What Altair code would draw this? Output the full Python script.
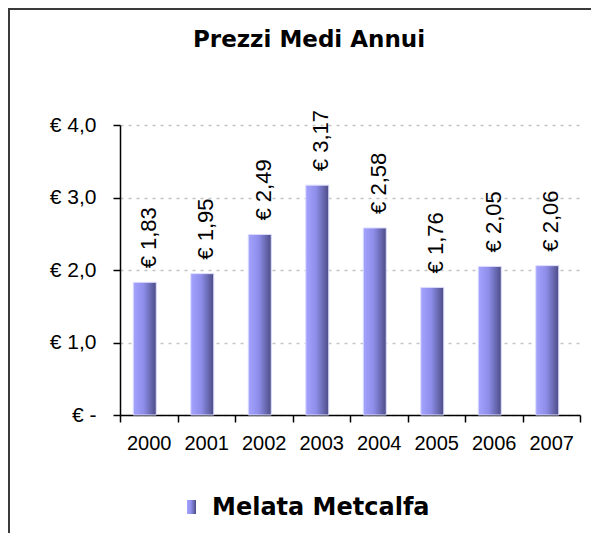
import altair as alt
import pandas as pd

years = ["2000", "2001", "2002", "2003", "2004", "2005", "2006", "2007"]
prices = [1.83, 1.95, 2.49, 3.17, 2.58, 1.76, 2.05, 2.06]
series_name = "Melata Metcalfa"
title_text = "Prezzi Medi Annui"
y_ticks = [0, 0.5, 1.0, 1.5, 2.0, 2.5, 3.0, 3.5, 4.0]

df = pd.DataFrame({"anno": years, "prezzo": prices})

W, H = 460, 290
LABEL_FONT = "Liberation Sans"
BOLD_FONT = "DejaVu Sans"

grad = alt.LinearGradient(
    gradient="linear",
    stops=[
        alt.GradientStop(offset=0, color="#a4a4ff"),
        alt.GradientStop(offset=0.45, color="#8e8eea"),
        alt.GradientStop(offset=1, color="#4c4c86"),
    ],
    x1=0, x2=1, y1=0, y2=0,
)

x_enc = alt.X(
    "anno:N",
    sort=years,
    scale=alt.Scale(paddingInner=0, paddingOuter=0),
    axis=alt.Axis(
        title=None,
        labelAngle=0,
        labelFont=LABEL_FONT,
        labelFontSize=20,
        labelColor="#000000",
        labelPadding=11,
        domainColor="#000000",
        domainWidth=1.5,
        tickColor="#000000",
        tickWidth=1.5,
        tickSize=7,
        tickBand="extent",
        grid=False,
    ),
)

y_scale = alt.Scale(domain=[0, 4], nice=False)

bars = alt.Chart(df).mark_bar(
    fill=grad, stroke="#dcdcff", strokeWidth=1, width=23, xOffset=-4
).encode(
    x=x_enc,
    y=alt.Y(
        "prezzo:Q",
        scale=y_scale,
        axis=alt.Axis(
            title=None,
            values=y_ticks,
            labelExpr="datum.value == 0 ? '€ -' : (datum.value % 1 == 0 ? '€ ' + replace(format(datum.value, '.1f'), '.', ',') : '')",
            labelFont=LABEL_FONT,
            labelFontSize=21,
            labelColor="#000000",
            labelPadding=17,
            domainColor="#000000",
            domainWidth=1.5,
            tickColor="#000000",
            tickWidth=1.5,
            tickSize=7,
            grid=True,
            gridColor="#c4c4c4",
            gridDash=[3, 5],
            gridWidth=1.5,
        ),
    ),
)

labels = alt.Chart(df).transform_calculate(
    lab="'€ ' + replace(format(datum.prezzo, '.2f'), '.', ',')"
).mark_text(
    angle=270, align="left", baseline="middle", dx=14,
    font=LABEL_FONT, fontSize=22, color="#000000",
).encode(
    x=alt.X("anno:N", sort=years),
    y=alt.Y("prezzo:Q", scale=y_scale),
    text="lab:N",
)

title = alt.Chart(pd.DataFrame({"t": [title_text]})).mark_text(
    align="center", baseline="alphabetic", font=BOLD_FONT, fontSize=23,
    fontWeight="bold", color="#000000",
).encode(x=alt.value(189), y=alt.value(-78), text="t:N")

legend_sw = alt.Chart(pd.DataFrame({"s": [series_name]})).mark_rect(
    fill=grad
).encode(x=alt.value(67), x2=alt.value(76), y=alt.value(375), y2=alt.value(389))

legend_tx = alt.Chart(pd.DataFrame({"s": [series_name]})).mark_text(
    align="left", baseline="middle", font=BOLD_FONT, fontSize=24,
    fontWeight="bold", color="#000000",
).encode(x=alt.value(92), y=alt.value(383), text="s:N")

frame_top = alt.Chart(pd.DataFrame({"a": [0]})).mark_rule(
    color="#3a3a3a", strokeWidth=2
).encode(x=alt.value(-112), x2=alt.value(W + 11), y=alt.value(-116))

frame_left = alt.Chart(pd.DataFrame({"a": [0]})).mark_rule(
    color="#3a3a3a", strokeWidth=2
).encode(x=alt.value(-111), y=alt.value(-117), y2=alt.value(H + 118))

chart = alt.layer(
    bars, labels, title, legend_sw, legend_tx, frame_top, frame_left
).properties(
    width=W,
    height=H,
    autosize=alt.AutoSizeParams(type="none"),
    padding={"left": 112, "top": 117, "right": 11, "bottom": 120},
    background="#ffffff",
).configure_view(stroke=None)

chart.save("out.html", embed_options={"renderer": "svg", "actions": False})
